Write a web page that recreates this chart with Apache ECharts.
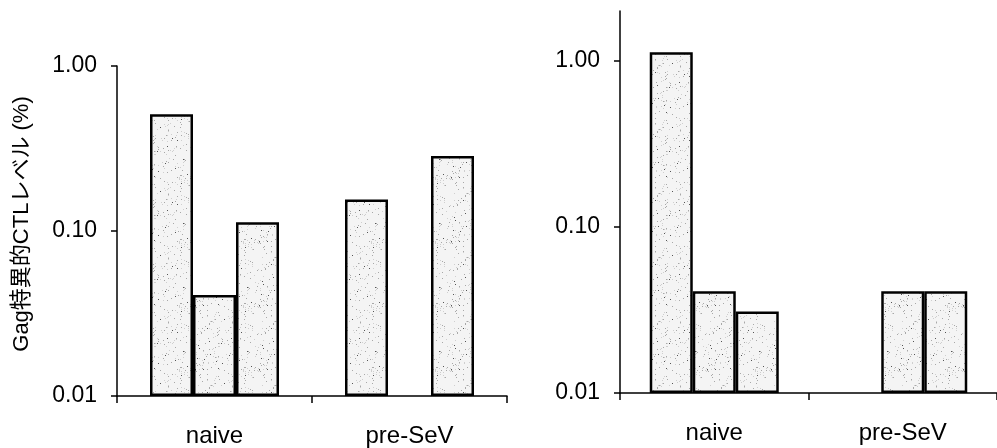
<!DOCTYPE html>
<html>
<head>
<meta charset="utf-8">
<script src="https://cdn.jsdelivr.net/npm/echarts@6/dist/echarts.min.js"></script>
<style>
  html, body { margin: 0; padding: 0; background: #fff; }
  #main { width: 997px; height: 448px; }
</style>
</head>
<body>
<div id="main"></div>
<script>
// data
var categories = ['naive', 'pre-SeV'];
var yTicks = [0.01, 0.1, 1];

// left panel
var leftA = [0.51, 0.155];
var leftB = [0.041, null];
var leftC = [0.113, 0.285];

// right panel
var rightA = [1.13, null];
var rightB = [0.041, 0.041];
var rightC = [0.031, 0.041];

// stipple fill for the bars (fixed seed so it looks the same every time)
function makeStipple() {
  var c = document.createElement('canvas');
  c.width = 64; c.height = 64;
  var ctx = c.getContext('2d');
  ctx.fillStyle = '#f4f4f4';
  ctx.fillRect(0, 0, 64, 64);
  var s = 123456789;
  function rnd() {
    s |= 0; s = s + 0x6D2B79F5 | 0;
    var t = Math.imul(s ^ s >>> 15, 1 | s);
    t = t + Math.imul(t ^ t >>> 7, 61 | t) ^ t;
    return ((t ^ t >>> 14) >>> 0) / 4294967296;
  }
  for (var i = 0; i < 230; i++) {
    var r = rnd();
    ctx.fillStyle = r < 0.15 ? '#555' : (r < 0.5 ? '#a8a8a8' : '#cfcfcf');
    ctx.fillRect(Math.floor(rnd() * 64), Math.floor(rnd() * 64), 1, 1);
  }
  return c;
}
var stipple = makeStipple();

var fontLatin = "'Liberation Sans', Arial, sans-serif";
var fontJa = "'Liberation Sans', 'Noto Sans CJK JP', sans-serif";

function barSeries(data, idx) {
  return {
    type: 'bar',
    xAxisIndex: idx,
    yAxisIndex: idx,
    data: data,
    barWidth: 43,
    barGap: '0%',
    itemStyle: {
      color: { image: stipple, repeat: 'repeat' },
      borderColor: '#000',
      borderWidth: 2.5
    },
    silent: true
  };
}

function xAxisFor(idx) {
  return {
    type: 'category',
    gridIndex: idx,
    data: categories,
    axisLine: { lineStyle: { color: '#000', width: 1.5 } },
    axisTick: { show: true, length: 7, lineStyle: { color: '#000', width: 1.5 } },
    axisLabel: { color: '#000', fontSize: 24, fontFamily: fontLatin, margin: 28 }
  };
}

function yAxisFor(idx, max) {
  return {
    type: 'log',
    gridIndex: idx,
    min: 0.01,
    max: max,
    startValue: 0.01,
    splitLine: { show: false },
    axisLine: { show: true, lineStyle: { color: '#000', width: 1.5 } },
    axisTick: { show: true, length: 6, customValues: yTicks, lineStyle: { color: '#000', width: 1.5 } },
    axisLabel: {
      color: '#000', fontSize: 23, fontFamily: fontLatin, margin: 20,
      customValues: yTicks,
      formatter: function (v) { return Number(v).toFixed(2); }
    }
  };
}

var option = {
  animation: false,
  backgroundColor: '#fff',
  grid: [
    { left: 117, top: 66, width: 390, bottom: 52 },
    { left: 620, top: 11, width: 386, bottom: 55 }
  ],
  xAxis: [xAxisFor(0), xAxisFor(1)],
  yAxis: [
    Object.assign(yAxisFor(0, 1), {
      name: 'Gag特異的CTLレベル (%)',
      nameLocation: 'middle',
      nameRotate: 90,
      nameGap: 84,
      nameTextStyle: { color: '#000', fontSize: 22, fontFamily: fontJa, padding: [0, 0, 0, 14] }
    }),
    yAxisFor(1, 2)
  ],
  series: [
    barSeries(leftA, 0), barSeries(leftB, 0), barSeries(leftC, 0),
    barSeries(rightA, 1), barSeries(rightB, 1), barSeries(rightC, 1)
  ]
};

var chart = echarts.init(document.getElementById('main'), null, { renderer: 'canvas' });
chart.setOption(option);
</script>
</body>
</html>
